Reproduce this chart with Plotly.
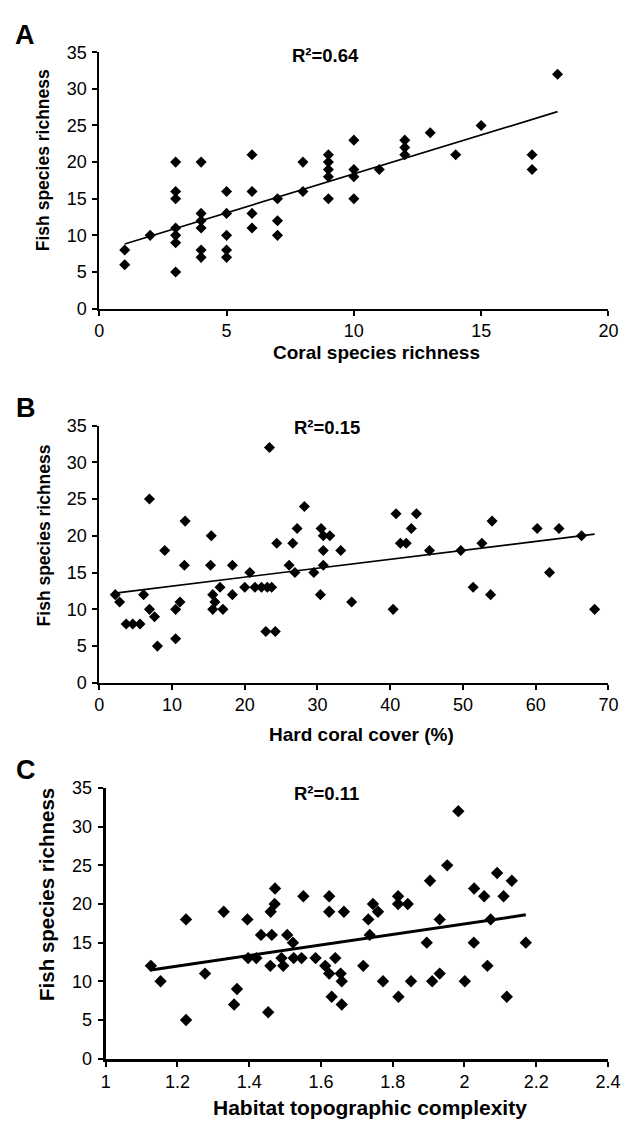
import numpy as np
import plotly.graph_objects as go

# ---------------- data ----------------
coral_richness = [1, 1, 2, 3, 3, 3, 3, 3, 3, 3, 4, 4, 4, 4, 4, 4, 5, 5, 5, 5, 5,
                  6, 6, 6, 6, 7, 7, 7, 8, 8, 9, 9, 9, 9, 9, 10, 10, 10, 10, 11,
                  12, 12, 12, 13, 14, 15, 17, 17, 18]
fish_a = [8, 6, 10, 20, 16, 15, 11, 10, 9, 5, 20, 13, 12, 11, 8, 7, 16, 13, 10, 8, 7,
          21, 16, 13, 11, 15, 12, 10, 20, 16, 21, 20, 19, 18, 15, 23, 19, 18, 15, 19,
          23, 22, 21, 24, 21, 25, 21, 19, 32]

hard_coral_cover = [2.2, 2.8, 3.7, 4.6, 5.6, 6.1, 6.9, 6.9, 7.6, 8.0, 9.0, 10.5, 10.5, 11.1,
                    11.8, 11.7, 15.4, 15.3, 15.6, 15.9, 15.6, 16.6, 17.0, 18.3, 18.3, 20.0,
                    20.7, 21.4, 22.3, 23.1, 23.7, 23.4, 22.9, 24.2, 24.4, 26.1, 26.6, 26.9,
                    27.2, 28.2, 29.5, 30.5, 30.8, 31.7, 30.8, 30.8, 30.4, 33.2, 34.7, 40.8,
                    40.4, 41.4, 42.2, 42.9, 43.6, 45.4, 49.7, 51.4, 52.6, 54.0, 53.8, 60.2,
                    61.9, 63.2, 66.3, 68.1]
fish_b = [12, 11, 8, 8, 8, 12, 25, 10, 9, 5, 18, 6, 10, 11, 22, 16, 20, 16, 12, 11, 10, 13,
          10, 16, 12, 13, 15, 13, 13, 13, 13, 32, 7, 7, 19, 16, 19, 15, 21, 24, 15, 21, 20,
          20, 18, 16, 12, 18, 11, 23, 10, 19, 19, 21, 23, 18, 18, 13, 19, 22, 12, 21, 15,
          21, 20, 10]

complexity = [1.126, 1.153, 1.224, 1.224, 1.277, 1.329, 1.366, 1.358, 1.395, 1.397, 1.420,
              1.433, 1.453, 1.459, 1.463, 1.460, 1.471, 1.472, 1.495, 1.490, 1.506, 1.522,
              1.524, 1.546, 1.551, 1.585, 1.612, 1.623, 1.623, 1.623, 1.630, 1.640, 1.655,
              1.658, 1.658, 1.664,
              1.718, 1.732, 1.736, 1.745, 1.759, 1.773, 1.815, 1.815, 1.842, 1.816, 1.851,
              1.895, 1.904, 1.910, 1.931, 1.931, 1.952, 1.983, 2.001, 2.027, 2.026, 2.055,
              2.064, 2.073, 2.091, 2.109, 2.118, 2.132, 2.171]
fish_c = [12, 10, 18, 5, 11, 19, 9, 7, 18, 13, 13, 16, 6, 12, 16, 19, 20, 22, 12, 13, 16, 15,
          13, 13, 21, 13, 12, 21, 19, 11, 8, 13, 11, 10, 7, 19,
          12, 18, 16, 20, 19, 10, 21, 20, 20, 8, 10, 15, 23, 10, 18, 11, 25, 32, 10, 22, 15,
          21, 12, 18, 24, 21, 8, 23, 15]

r2_labels = ["R\u00b2=0.64", "R\u00b2=0.15", "R\u00b2=0.11"]
panel_letters = ["A", "B", "C"]
x_titles = ["Coral species richness", "Hard coral cover (%)", "Habitat topographic complexity"]
y_title = "Fish species richness"

# ---------------- layout helpers ----------------
W, H = 637, 1131
FONT = "Liberation Sans, Arial, sans-serif"


def fx(px):
    return px / W


def fy(py):
    return 1 - py / H


panels = [
    dict(x=coral_richness, y=fish_a, xdom=(97, 621), ydom=(43, 304), xr=[0, 20], dt=5,
         msize=8.5, lw=1.7, axw=2, tfs=18, ttfs=19, ytfs=17.5,
         r2=(330, 46), letter=(21, 25), xt=(382, 349), yt=(39, 153)),
    dict(x=hard_coral_cover, y=fish_b, xdom=(97, 621), ydom=(423, 685), xr=[0, 70], dt=10,
         msize=8.5, lw=1.7, axw=2, tfs=18, ttfs=19, ytfs=17.5,
         r2=(331, 425), letter=(22, 405), xt=(367, 738), yt=(40, 535)),
    dict(x=complexity, y=fish_c, xdom=(103.6, 620.5), ydom=(792, 1067.5), xr=[1, 2.4], dt=0.2,
         msize=9.5, lw=3, axw=3, tfs=18, ttfs=21, ytfs=20.5,
         r2=(331, 798), letter=(22, 774), xt=(376, 1117), yt=(42, 900)),
]

fig = go.Figure()
annotations = []
layout = {}

for i, p in enumerate(panels):
    n = i + 1
    xa = "x" if n == 1 else f"x{n}"
    ya = "y" if n == 1 else f"y{n}"
    xk = "xaxis" if n == 1 else f"xaxis{n}"
    yk = "yaxis" if n == 1 else f"yaxis{n}"

    xs = np.array(p["x"], dtype=float)
    ys = np.array(p["y"], dtype=float)
    slope, icpt = np.polyfit(xs, ys, 1)
    lx = np.array([xs.min(), xs.max()])
    fig.add_trace(go.Scatter(x=lx, y=slope * lx + icpt, mode="lines",
                             line=dict(color="black", width=p["lw"]),
                             xaxis=xa, yaxis=ya, showlegend=False, hoverinfo="skip"))
    fig.add_trace(go.Scatter(x=xs, y=ys, mode="markers",
                             marker=dict(symbol="diamond", size=p["msize"], color="black",
                                         line=dict(width=0)),
                             xaxis=xa, yaxis=ya, showlegend=False, cliponaxis=False))

    common = dict(showgrid=False, zeroline=False, showline=True, linecolor="black",
                  linewidth=p["axw"], ticks="outside", ticklen=5, tickwidth=p["axw"] * 0.8,
                  tickcolor="black", tickfont=dict(family=FONT, size=p["tfs"], color="black"),
                  fixedrange=True)
    layout[xk] = dict(domain=[fx(p["xdom"][0]), fx(p["xdom"][1])], range=p["xr"],
                      dtick=p["dt"], tick0=p["xr"][0], anchor=ya, ticklabelstandoff=0,
                      **common)
    layout[yk] = dict(domain=[fy(p["ydom"][1]), fy(p["ydom"][0])], range=[0, 35],
                      dtick=5, anchor=xa, ticklabelstandoff=2, **common)

    annotations += [
        dict(text=f"<b>{r2_labels[i]}</b>", x=fx(p["r2"][0]), y=fy(p["r2"][1]),
             xref="paper", yref="paper", showarrow=False, xanchor="center", yanchor="middle",
             font=dict(family=FONT, size=18.5, color="black")),
        dict(text=f"<b>{panel_letters[i]}</b>", x=fx(p["letter"][0]), y=fy(p["letter"][1]),
             xref="paper", yref="paper", showarrow=False, xanchor="center", yanchor="middle",
             font=dict(family=FONT, size=27, color="black")),
        dict(text=f"<b>{x_titles[i]}</b>", x=fx(p["xt"][0]), y=fy(p["xt"][1]),
             xref="paper", yref="paper", showarrow=False, xanchor="center", yanchor="middle",
             font=dict(family=FONT, size=p["ttfs"], color="black")),
        dict(text=f"<b>{y_title}</b>", x=fx(p["yt"][0]), y=fy(p["yt"][1]), textangle=-90,
             xref="paper", yref="paper", showarrow=False, xanchor="center", yanchor="middle",
             font=dict(family=FONT, size=p["ytfs"], color="black")),
    ]

fig.update_layout(width=W, height=H, margin=dict(l=0, r=0, t=0, b=0),
                  paper_bgcolor="white", plot_bgcolor="white",
                  annotations=annotations, **layout)

fig.write_html("out.html", config={"displayModeBar": False},
               post_script="document.body.style.margin='0px';document.body.style.padding='0px';")
